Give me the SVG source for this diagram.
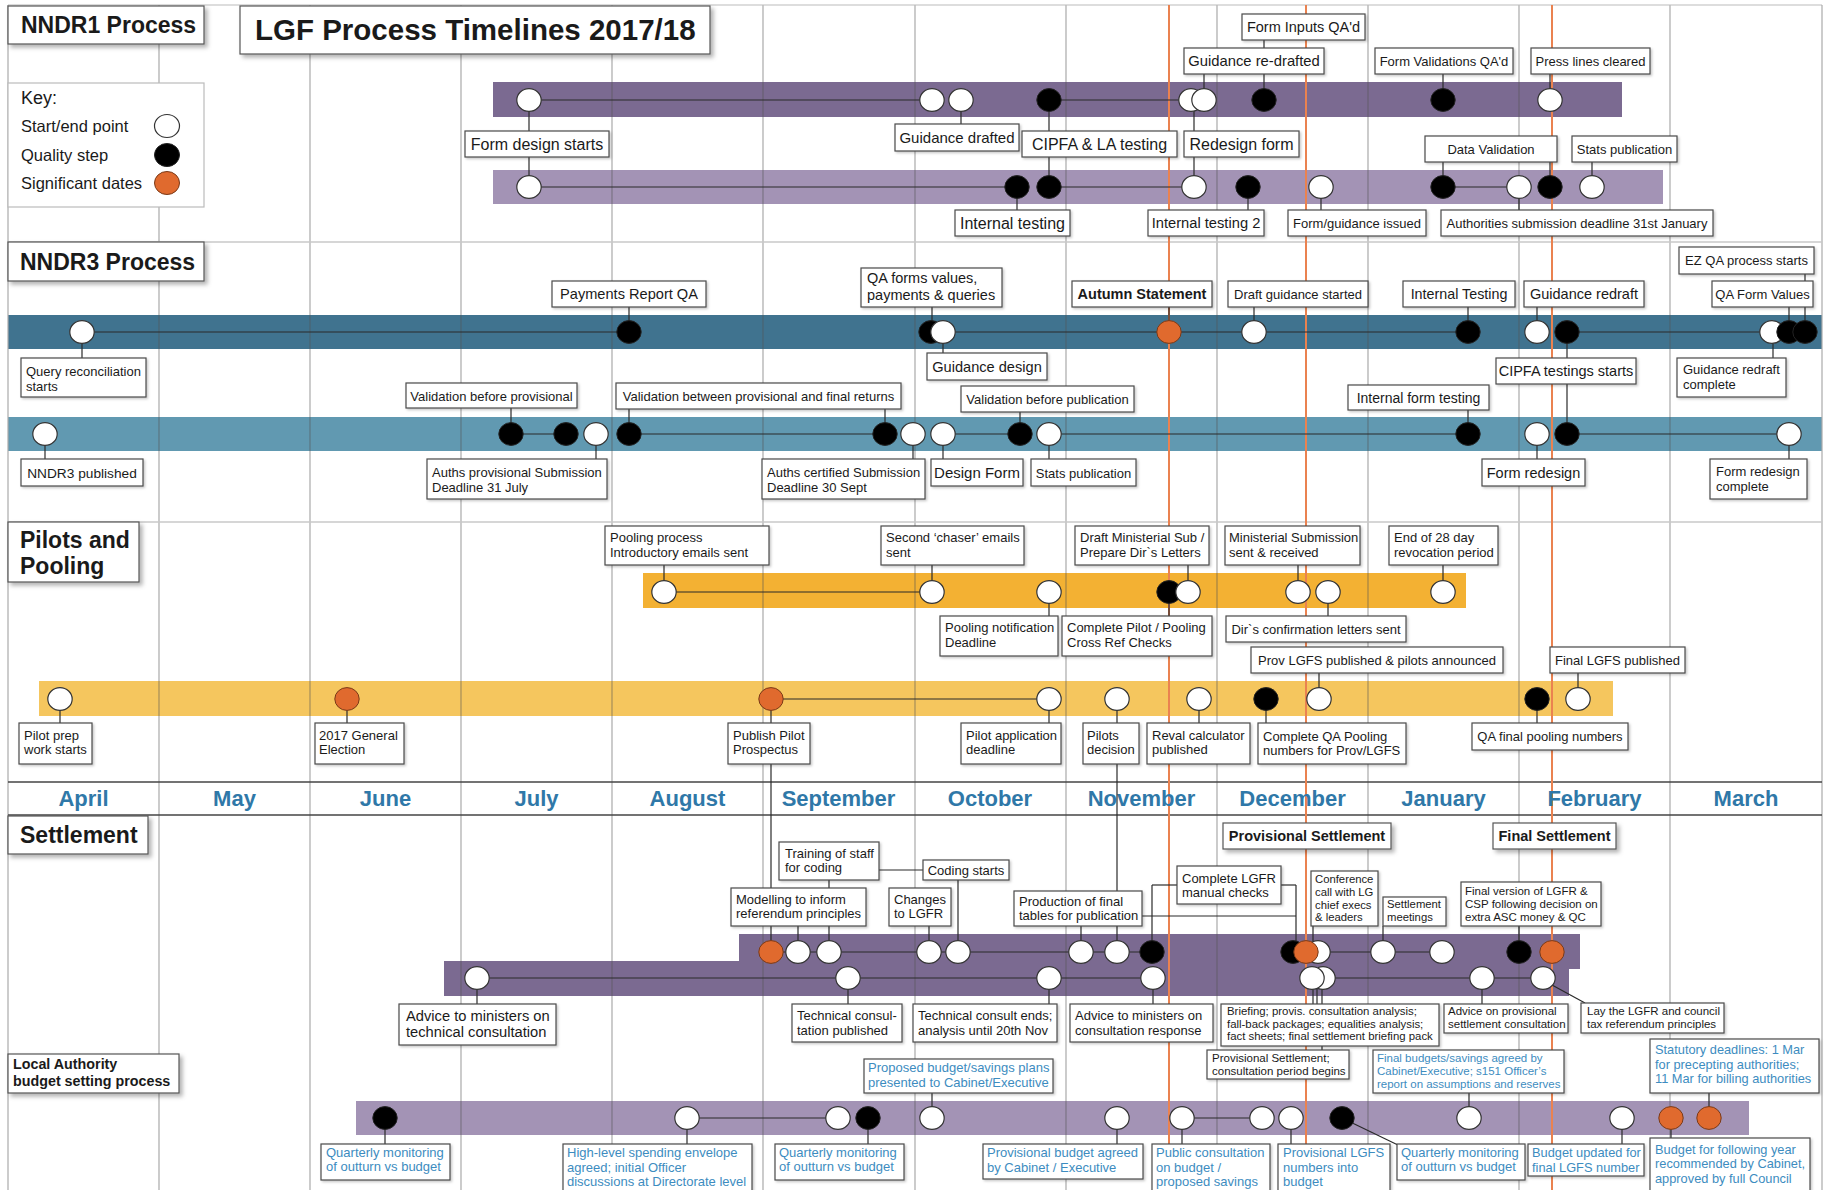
<svg xmlns="http://www.w3.org/2000/svg" width="1829" height="1190" viewBox="0 0 1829 1190">
<defs>
<filter id="sh" x="-5%" y="-10%" width="115%" height="140%"><feDropShadow dx="3" dy="3" stdDeviation="2" flood-color="#000" flood-opacity="0.3"/></filter>
<filter id="sh2" x="-5%" y="-10%" width="115%" height="140%"><feDropShadow dx="1.5" dy="1.5" stdDeviation="1" flood-color="#000" flood-opacity="0.22"/></filter>
<style>
.t{font-family:"Liberation Sans",Arial,Helvetica,sans-serif;fill:#1a1a1a}
.h{font-weight:bold}
.m{text-anchor:middle}
.bl{fill:#3d8cc0}
.mo{font-family:"Liberation Sans",Arial,sans-serif;font-weight:bold;font-size:22px;fill:#2f78a8;text-anchor:middle}
.bx{fill:#fff;stroke:#4a4a4a;stroke-width:1.2;filter:url(#sh2)}
.sx{fill:#fff;stroke:#555;stroke-width:1.2;filter:url(#sh)}
.cn line{stroke:#2a2a2a;stroke-width:1.2}
.cw{fill:#fff;stroke:#333;stroke-width:1.2}
.ck{fill:#000;stroke:#222;stroke-width:1}
.co{fill:#e06a2e;stroke:#7a3a18;stroke-width:1}
.gr line{stroke:#555;stroke-opacity:.5;stroke-width:1.2}
.or line{stroke:#ea8250;stroke-width:2}
</style>
</defs>
<rect width="1829" height="1190" fill="#fff"/>

<g id="bands">
<rect x="493" y="82" width="1129" height="35" fill="#7b6a91"/>
<rect x="493" y="170" width="1170" height="34" fill="#a393b5"/>
<rect x="8" y="315" width="1814" height="34" fill="#40738f"/>
<rect x="8" y="417" width="1814" height="34" fill="#6199b1"/>
<rect x="643" y="573" width="823" height="35" fill="#f3b133"/>
<rect x="39" y="681" width="1574" height="35" fill="#f5c65e"/>
<polygon points="739,934 1580,934 1580,969 1569,969 1569,996 444,996 444,961 739,961" fill="#7b6a91"/>
<rect x="356" y="1101" width="1393" height="34" fill="#a393b5"/>
</g>

<g id="grid" class="gr">
<line x1="159" y1="5" x2="159" y2="1190"/><line x1="310" y1="5" x2="310" y2="1190"/>
<line x1="461" y1="5" x2="461" y2="1190"/><line x1="612" y1="5" x2="612" y2="1190"/>
<line x1="763" y1="5" x2="763" y2="1190"/><line x1="915" y1="5" x2="915" y2="1190"/>
<line x1="1066" y1="5" x2="1066" y2="1190"/><line x1="1217" y1="5" x2="1217" y2="1190"/>
<line x1="1368" y1="5" x2="1368" y2="1190"/><line x1="1519" y1="5" x2="1519" y2="1190"/>
<line x1="1670" y1="5" x2="1670" y2="1190"/>
</g>
<g id="frame">
<line x1="8" y1="5" x2="1822" y2="5" stroke="#bbb" stroke-width="1.2"/>
<line x1="8" y1="5" x2="8" y2="1190" stroke="#aaa" stroke-width="1.2"/>
<line x1="1822" y1="5" x2="1822" y2="1190" stroke="#aaa" stroke-width="1.2"/>
<line x1="8" y1="242" x2="1822" y2="242" stroke="#c8c8c8" stroke-width="1.5"/>
<line x1="8" y1="522" x2="1822" y2="522" stroke="#c8c8c8" stroke-width="1.5"/>
<line x1="8" y1="782" x2="1822" y2="782" stroke="#444" stroke-width="1.5"/>
<line x1="8" y1="815" x2="1822" y2="815" stroke="#444" stroke-width="1.5"/>
</g>
<g id="significant-lines" class="or">
<line x1="1169" y1="5" x2="1169" y2="1190"/>
<line x1="1306" y1="5" x2="1306" y2="1190"/>
<line x1="1552" y1="5" x2="1552" y2="1190"/>
</g>

<g id="months">
<text class="mo" x="83.5" y="806">April</text>
<text class="mo" x="234.5" y="806">May</text>
<text class="mo" x="385.5" y="806">June</text>
<text class="mo" x="536.5" y="806">July</text>
<text class="mo" x="687.5" y="806">August</text>
<text class="mo" x="838.5" y="806">September</text>
<text class="mo" x="990" y="806">October</text>
<text class="mo" x="1141.5" y="806">November</text>
<text class="mo" x="1292.5" y="806">December</text>
<text class="mo" x="1443.5" y="806">January</text>
<text class="mo" x="1594.5" y="806">February</text>
<text class="mo" x="1746" y="806">March</text>
</g>

<g id="connectors" class="cn">
<line x1="529" y1="100" x2="932" y2="100"/><line x1="1049" y1="100" x2="1204" y2="100"/>
<line x1="529" y1="187" x2="1017" y2="187"/><line x1="1049" y1="187" x2="1194" y2="187"/><line x1="1443" y1="187" x2="1519" y2="187"/>
<line x1="529" y1="100" x2="529" y2="187"/><line x1="961" y1="100" x2="961" y2="124"/><line x1="1049" y1="100" x2="1049" y2="187"/>
<line x1="1194" y1="100" x2="1194" y2="187"/><line x1="1204" y1="74" x2="1204" y2="100"/><line x1="1264" y1="40" x2="1264" y2="100"/>
<line x1="1017" y1="187" x2="1017" y2="210"/><line x1="1248" y1="187" x2="1248" y2="210"/><line x1="1321" y1="187" x2="1321" y2="210"/>
<line x1="1443" y1="74" x2="1443" y2="100"/><line x1="1443" y1="162" x2="1443" y2="187"/>
<line x1="1550" y1="74" x2="1550" y2="100"/><line x1="1550" y1="162" x2="1550" y2="187"/>
<line x1="1519" y1="187" x2="1519" y2="210"/><line x1="1592" y1="162" x2="1592" y2="187"/>

<line x1="82" y1="332" x2="629" y2="332"/><line x1="943" y1="332" x2="1468" y2="332"/><line x1="1567" y1="332" x2="1805" y2="332"/>
<line x1="511" y1="434" x2="566" y2="434"/><line x1="629" y1="434" x2="885" y2="434"/><line x1="943" y1="434" x2="1020" y2="434"/>
<line x1="1049" y1="434" x2="1468" y2="434"/><line x1="1567" y1="434" x2="1789" y2="434"/>
<line x1="82" y1="332" x2="82" y2="358"/><line x1="629" y1="307" x2="629" y2="332"/><line x1="932" y1="307" x2="932" y2="332"/>
<line x1="943" y1="332" x2="943" y2="353"/><line x1="1169" y1="307" x2="1169" y2="332"/><line x1="1254" y1="307" x2="1254" y2="332"/>
<line x1="1468" y1="307" x2="1468" y2="332"/><line x1="1537" y1="307" x2="1537" y2="332"/><line x1="1567" y1="332" x2="1567" y2="434"/>
<line x1="1805" y1="274" x2="1805" y2="332"/><line x1="1789" y1="307" x2="1789" y2="332"/><line x1="1773" y1="332" x2="1773" y2="358"/>
<line x1="45" y1="434" x2="45" y2="459"/><line x1="511" y1="408" x2="511" y2="434"/><line x1="596" y1="434" x2="596" y2="459"/>
<line x1="629" y1="409" x2="629" y2="434"/><line x1="885" y1="409" x2="885" y2="434"/><line x1="913" y1="434" x2="913" y2="459"/>
<line x1="943" y1="434" x2="943" y2="459"/><line x1="1020" y1="412" x2="1020" y2="434"/><line x1="1049" y1="434" x2="1049" y2="459"/>
<line x1="1468" y1="410" x2="1468" y2="434"/><line x1="1537" y1="434" x2="1537" y2="459"/><line x1="1789" y1="434" x2="1789" y2="459"/>

<line x1="664" y1="592" x2="932" y2="592"/><line x1="771" y1="699" x2="1049" y2="699"/>
<line x1="664" y1="565" x2="664" y2="592"/><line x1="932" y1="565" x2="932" y2="592"/><line x1="1049" y1="592" x2="1049" y2="616"/>
<line x1="1188" y1="565" x2="1188" y2="592"/><line x1="1169" y1="592" x2="1169" y2="616"/><line x1="1298" y1="565" x2="1298" y2="592"/>
<line x1="1328" y1="592" x2="1328" y2="616"/><line x1="1443" y1="565" x2="1443" y2="592"/>
<line x1="60" y1="699" x2="60" y2="723"/><line x1="347" y1="699" x2="347" y2="723"/><line x1="771" y1="699" x2="771" y2="952"/>
<line x1="1049" y1="699" x2="1049" y2="723"/><line x1="1117" y1="699" x2="1117" y2="952"/><line x1="1199" y1="699" x2="1199" y2="723"/>
<line x1="1266" y1="699" x2="1266" y2="723"/><line x1="1319" y1="673" x2="1319" y2="699"/><line x1="1537" y1="699" x2="1537" y2="723"/>
<line x1="1578" y1="673" x2="1578" y2="699"/>

<line x1="771" y1="952" x2="1152" y2="952"/><line x1="1317" y1="952" x2="1442" y2="952"/>
<line x1="477" y1="978" x2="1153" y2="978"/><line x1="1323" y1="978" x2="1543" y2="978"/>
<line x1="879" y1="870" x2="923" y2="870"/><line x1="1142" y1="916" x2="1296" y2="916"/>
<line x1="1152" y1="885" x2="1177" y2="885"/><line x1="1281" y1="885" x2="1296" y2="885"/>
<line x1="798" y1="926" x2="798" y2="952"/><line x1="829" y1="880" x2="829" y2="952"/><line x1="929" y1="926" x2="929" y2="952"/>
<line x1="958" y1="880" x2="958" y2="952"/><line x1="1081" y1="926" x2="1081" y2="952"/><line x1="1152" y1="885" x2="1152" y2="952"/>
<line x1="1296" y1="885" x2="1296" y2="952"/><line x1="1313" y1="926" x2="1313" y2="952"/><line x1="1383" y1="926" x2="1383" y2="952"/>
<line x1="1519" y1="926" x2="1519" y2="952"/>
<line x1="477" y1="978" x2="477" y2="1004"/><line x1="848" y1="978" x2="848" y2="1004"/><line x1="1049" y1="978" x2="1049" y2="1004"/>
<line x1="1153" y1="978" x2="1153" y2="1004"/><line x1="1313" y1="978" x2="1313" y2="1004"/><line x1="1317" y1="978" x2="1317" y2="1004"/>
<line x1="1322" y1="978" x2="1322" y2="1004"/><line x1="1322" y1="1046" x2="1322" y2="1050"/><line x1="1482" y1="978" x2="1482" y2="1004"/>
<line x1="1552" y1="985" x2="1585" y2="1003"/>

<line x1="687" y1="1118" x2="838" y2="1118"/><line x1="1182" y1="1118" x2="1262" y2="1118"/>
<line x1="385" y1="1118" x2="385" y2="1144"/><line x1="687" y1="1118" x2="687" y2="1144"/><line x1="868" y1="1118" x2="868" y2="1144"/>
<line x1="932" y1="1093" x2="932" y2="1118"/><line x1="1117" y1="1118" x2="1117" y2="1144"/><line x1="1182" y1="1118" x2="1182" y2="1144"/>
<line x1="1291" y1="1118" x2="1291" y2="1144"/><line x1="1469" y1="1093" x2="1469" y2="1118"/><line x1="1622" y1="1118" x2="1622" y2="1144"/>
<line x1="1671" y1="1118" x2="1671" y2="1138"/><line x1="1709" y1="1093" x2="1709" y2="1118"/>
<line x1="1342" y1="1118" x2="1400" y2="1146"/>
</g>

<g id="points">
<g id="p-n1a-1"><ellipse class="cw" cx="529" cy="100" rx="12.2" ry="11.4"/></g>
<g id="p-n1a-2"><ellipse class="cw" cx="932" cy="100" rx="12.2" ry="11.4"/></g>
<g id="p-n1a-3"><ellipse class="cw" cx="961" cy="100" rx="12.2" ry="11.4"/></g>
<g id="p-n1a-4"><ellipse class="ck" cx="1049" cy="100" rx="12.2" ry="11.4"/></g>
<g id="p-n1a-5"><ellipse class="cw" cx="1191" cy="100" rx="12.2" ry="11.4"/></g>
<g id="p-n1a-6"><ellipse class="cw" cx="1204" cy="100" rx="12.2" ry="11.4"/></g>
<g id="p-n1a-7"><ellipse class="ck" cx="1264" cy="100" rx="12.2" ry="11.4"/></g>
<g id="p-n1a-8"><ellipse class="ck" cx="1443" cy="100" rx="12.2" ry="11.4"/></g>
<g id="p-n1a-9"><ellipse class="cw" cx="1550" cy="100" rx="12.2" ry="11.4"/></g>
<g id="p-n1b-1"><ellipse class="cw" cx="529" cy="187" rx="12.2" ry="11.4"/></g>
<g id="p-n1b-2"><ellipse class="ck" cx="1017" cy="187" rx="12.2" ry="11.4"/></g>
<g id="p-n1b-3"><ellipse class="ck" cx="1049" cy="187" rx="12.2" ry="11.4"/></g>
<g id="p-n1b-4"><ellipse class="cw" cx="1194" cy="187" rx="12.2" ry="11.4"/></g>
<g id="p-n1b-5"><ellipse class="ck" cx="1248" cy="187" rx="12.2" ry="11.4"/></g>
<g id="p-n1b-6"><ellipse class="cw" cx="1321" cy="187" rx="12.2" ry="11.4"/></g>
<g id="p-n1b-7"><ellipse class="ck" cx="1443" cy="187" rx="12.2" ry="11.4"/></g>
<g id="p-n1b-8"><ellipse class="cw" cx="1519" cy="187" rx="12.2" ry="11.4"/></g>
<g id="p-n1b-9"><ellipse class="ck" cx="1550" cy="187" rx="12.2" ry="11.4"/></g>
<g id="p-n1b-10"><ellipse class="cw" cx="1592" cy="187" rx="12.2" ry="11.4"/></g>

<g id="p-n3a-1"><ellipse class="cw" cx="82" cy="332" rx="12.2" ry="11.4"/></g>
<g id="p-n3a-2"><ellipse class="ck" cx="629" cy="332" rx="12.2" ry="11.4"/></g>
<g id="p-n3a-3"><ellipse class="ck" cx="931" cy="332" rx="12.2" ry="11.4"/></g>
<g id="p-n3a-4"><ellipse class="cw" cx="943" cy="332" rx="12.2" ry="11.4"/></g>
<g id="p-n3a-5"><ellipse class="co" cx="1169" cy="332" rx="12.2" ry="11.4"/></g>
<g id="p-n3a-6"><ellipse class="cw" cx="1254" cy="332" rx="12.2" ry="11.4"/></g>
<g id="p-n3a-7"><ellipse class="ck" cx="1468" cy="332" rx="12.2" ry="11.4"/></g>
<g id="p-n3a-8"><ellipse class="cw" cx="1537" cy="332" rx="12.2" ry="11.4"/></g>
<g id="p-n3a-9"><ellipse class="ck" cx="1567" cy="332" rx="12.2" ry="11.4"/></g>
<g id="p-n3a-10"><ellipse class="cw" cx="1772" cy="332" rx="12.2" ry="11.4"/></g>
<g id="p-n3a-11"><ellipse class="ck" cx="1789" cy="332" rx="12.2" ry="11.4"/></g>
<g id="p-n3a-12"><ellipse class="ck" cx="1805" cy="332" rx="12.2" ry="11.4"/></g>
<g id="p-n3b-1"><ellipse class="cw" cx="45" cy="434" rx="12.2" ry="11.4"/></g>
<g id="p-n3b-2"><ellipse class="ck" cx="511" cy="434" rx="12.2" ry="11.4"/></g>
<g id="p-n3b-3"><ellipse class="ck" cx="566" cy="434" rx="12.2" ry="11.4"/></g>
<g id="p-n3b-4"><ellipse class="cw" cx="596" cy="434" rx="12.2" ry="11.4"/></g>
<g id="p-n3b-5"><ellipse class="ck" cx="629" cy="434" rx="12.2" ry="11.4"/></g>
<g id="p-n3b-6"><ellipse class="ck" cx="885" cy="434" rx="12.2" ry="11.4"/></g>
<g id="p-n3b-7"><ellipse class="cw" cx="913" cy="434" rx="12.2" ry="11.4"/></g>
<g id="p-n3b-8"><ellipse class="cw" cx="943" cy="434" rx="12.2" ry="11.4"/></g>
<g id="p-n3b-9"><ellipse class="ck" cx="1020" cy="434" rx="12.2" ry="11.4"/></g>
<g id="p-n3b-10"><ellipse class="cw" cx="1049" cy="434" rx="12.2" ry="11.4"/></g>
<g id="p-n3b-11"><ellipse class="ck" cx="1468" cy="434" rx="12.2" ry="11.4"/></g>
<g id="p-n3b-12"><ellipse class="cw" cx="1537" cy="434" rx="12.2" ry="11.4"/></g>
<g id="p-n3b-13"><ellipse class="ck" cx="1567" cy="434" rx="12.2" ry="11.4"/></g>
<g id="p-n3b-14"><ellipse class="cw" cx="1789" cy="434" rx="12.2" ry="11.4"/></g>

<g id="p-pa-1"><ellipse class="cw" cx="664" cy="592" rx="12.2" ry="11.4"/></g>
<g id="p-pa-2"><ellipse class="cw" cx="932" cy="592" rx="12.2" ry="11.4"/></g>
<g id="p-pa-3"><ellipse class="cw" cx="1049" cy="592" rx="12.2" ry="11.4"/></g>
<g id="p-pa-4"><ellipse class="ck" cx="1169" cy="592" rx="12.2" ry="11.4"/></g>
<g id="p-pa-5"><ellipse class="cw" cx="1188" cy="592" rx="12.2" ry="11.4"/></g>
<g id="p-pa-6"><ellipse class="cw" cx="1298" cy="592" rx="12.2" ry="11.4"/></g>
<g id="p-pa-7"><ellipse class="cw" cx="1328" cy="592" rx="12.2" ry="11.4"/></g>
<g id="p-pa-8"><ellipse class="cw" cx="1443" cy="592" rx="12.2" ry="11.4"/></g>
<g id="p-pb-1"><ellipse class="cw" cx="60" cy="699" rx="12.2" ry="11.4"/></g>
<g id="p-pb-2"><ellipse class="co" cx="347" cy="699" rx="12.2" ry="11.4"/></g>
<g id="p-pb-3"><ellipse class="co" cx="771" cy="699" rx="12.2" ry="11.4"/></g>
<g id="p-pb-4"><ellipse class="cw" cx="1049" cy="699" rx="12.2" ry="11.4"/></g>
<g id="p-pb-5"><ellipse class="cw" cx="1117" cy="699" rx="12.2" ry="11.4"/></g>
<g id="p-pb-6"><ellipse class="cw" cx="1199" cy="699" rx="12.2" ry="11.4"/></g>
<g id="p-pb-7"><ellipse class="ck" cx="1266" cy="699" rx="12.2" ry="11.4"/></g>
<g id="p-pb-8"><ellipse class="cw" cx="1319" cy="699" rx="12.2" ry="11.4"/></g>
<g id="p-pb-9"><ellipse class="ck" cx="1537" cy="699" rx="12.2" ry="11.4"/></g>
<g id="p-pb-10"><ellipse class="cw" cx="1578" cy="699" rx="12.2" ry="11.4"/></g>

<g id="p-sa-1"><ellipse class="co" cx="771" cy="952" rx="12.2" ry="11.4"/></g>
<g id="p-sa-2"><ellipse class="cw" cx="798" cy="952" rx="12.2" ry="11.4"/></g>
<g id="p-sa-3"><ellipse class="cw" cx="829" cy="952" rx="12.2" ry="11.4"/></g>
<g id="p-sa-4"><ellipse class="cw" cx="929" cy="952" rx="12.2" ry="11.4"/></g>
<g id="p-sa-5"><ellipse class="cw" cx="958" cy="952" rx="12.2" ry="11.4"/></g>
<g id="p-sa-6"><ellipse class="cw" cx="1081" cy="952" rx="12.2" ry="11.4"/></g>
<g id="p-sa-7"><ellipse class="cw" cx="1117" cy="952" rx="12.2" ry="11.4"/></g>
<g id="p-sa-8"><ellipse class="ck" cx="1152" cy="952" rx="12.2" ry="11.4"/></g>
<g id="p-sa-9"><ellipse class="ck" cx="1293" cy="952" rx="12.2" ry="11.4"/></g>
<g id="p-sa-10"><ellipse class="cw" cx="1318" cy="952" rx="12.2" ry="11.4"/></g>
<g id="p-sa-11"><ellipse class="co" cx="1306" cy="952" rx="12.2" ry="11.4"/></g>
<g id="p-sa-12"><ellipse class="cw" cx="1383" cy="952" rx="12.2" ry="11.4"/></g>
<g id="p-sa-13"><ellipse class="cw" cx="1442" cy="952" rx="12.2" ry="11.4"/></g>
<g id="p-sa-14"><ellipse class="ck" cx="1519" cy="952" rx="12.2" ry="11.4"/></g>
<g id="p-sa-15"><ellipse class="co" cx="1552" cy="952" rx="12.2" ry="11.4"/></g>
<g id="p-sb-1"><ellipse class="cw" cx="477" cy="978" rx="12.2" ry="11.4"/></g>
<g id="p-sb-2"><ellipse class="cw" cx="848" cy="978" rx="12.2" ry="11.4"/></g>
<g id="p-sb-3"><ellipse class="cw" cx="1049" cy="978" rx="12.2" ry="11.4"/></g>
<g id="p-sb-4"><ellipse class="cw" cx="1153" cy="978" rx="12.2" ry="11.4"/></g>
<g id="p-sb-5"><ellipse class="cw" cx="1323" cy="978" rx="12.2" ry="11.4"/></g>
<g id="p-sb-6"><ellipse class="cw" cx="1312" cy="978" rx="12.2" ry="11.4"/></g>
<g id="p-sb-7"><ellipse class="cw" cx="1482" cy="978" rx="12.2" ry="11.4"/></g>
<g id="p-sb-8"><ellipse class="cw" cx="1543" cy="978" rx="12.2" ry="11.4"/></g>

<g id="p-la-1"><ellipse class="ck" cx="385" cy="1118" rx="12.2" ry="11.4"/></g>
<g id="p-la-2"><ellipse class="cw" cx="687" cy="1118" rx="12.2" ry="11.4"/></g>
<g id="p-la-3"><ellipse class="cw" cx="838" cy="1118" rx="12.2" ry="11.4"/></g>
<g id="p-la-4"><ellipse class="ck" cx="868" cy="1118" rx="12.2" ry="11.4"/></g>
<g id="p-la-5"><ellipse class="cw" cx="932" cy="1118" rx="12.2" ry="11.4"/></g>
<g id="p-la-6"><ellipse class="cw" cx="1117" cy="1118" rx="12.2" ry="11.4"/></g>
<g id="p-la-7"><ellipse class="cw" cx="1182" cy="1118" rx="12.2" ry="11.4"/></g>
<g id="p-la-8"><ellipse class="cw" cx="1262" cy="1118" rx="12.2" ry="11.4"/></g>
<g id="p-la-9"><ellipse class="cw" cx="1291" cy="1118" rx="12.2" ry="11.4"/></g>
<g id="p-la-10"><ellipse class="ck" cx="1342" cy="1118" rx="12.2" ry="11.4"/></g>
<g id="p-la-11"><ellipse class="cw" cx="1469" cy="1118" rx="12.2" ry="11.4"/></g>
<g id="p-la-12"><ellipse class="cw" cx="1622" cy="1118" rx="12.2" ry="11.4"/></g>
<g id="p-la-13"><ellipse class="co" cx="1671" cy="1118" rx="12.2" ry="11.4"/></g>
<g id="p-la-14"><ellipse class="co" cx="1709" cy="1118" rx="12.2" ry="11.4"/></g>
</g>

<g id="headings">
<g id="h-nndr1"><rect class="sx" x="8" y="6" width="196" height="38"/><text class="t h" x="21" y="33" font-size="23">NNDR1 Process</text></g>
<g id="h-title"><rect class="sx" x="240" y="6" width="470" height="48"/><text class="t h" x="255" y="40" font-size="29.5">LGF Process Timelines 2017/18</text></g>
<g id="key"><rect x="8" y="83" width="196" height="124" fill="#fff" stroke="#bbb" stroke-width="1.2"/>
<text class="t" x="21" y="104" font-size="18">Key:</text>
<text class="t" x="21" y="132" font-size="16.5">Start/end point</text>
<text class="t" x="21" y="161" font-size="16.5">Quality step</text>
<text class="t" x="21" y="189" font-size="16.5">Significant dates</text>
<ellipse class="cw" cx="167" cy="126" rx="12.5" ry="11.5"/>
<ellipse class="ck" cx="167" cy="155" rx="12.5" ry="11.5"/>
<ellipse class="co" cx="167" cy="183" rx="12.5" ry="11.5"/></g>
<g id="h-nndr3"><rect class="sx" x="8" y="242" width="196" height="39"/><text class="t h" x="20" y="270" font-size="23">NNDR3 Process</text></g>
<g id="h-pilots"><rect class="sx" x="8" y="522" width="131" height="60"/><text class="t h" x="20" y="548" font-size="23">Pilots and</text><text class="t h" x="20" y="574" font-size="23">Pooling</text></g>
<g id="h-settlement"><rect class="sx" x="8" y="816" width="140" height="38"/><text class="t h" x="20" y="843" font-size="23">Settlement</text></g>
<g id="h-la"><rect class="sx" x="8" y="1054" width="171" height="39"/><text class="t h" x="13" y="1069" font-size="14.3">Local Authority</text><text class="t h" x="13" y="1086" font-size="14.3">budget setting process</text></g>
</g>

<g id="labels">
<g id="l-form-design"><rect class="bx" x="465" y="131" width="144" height="26"/><text class="t m" x="537" y="149.5" font-size="16">Form design starts</text></g>
<g id="l-guidance-drafted"><rect class="bx" x="895" y="124" width="124" height="27"/><text class="t m" x="957" y="143" font-size="15">Guidance drafted</text></g>
<g id="l-cipfa-la"><rect class="bx" x="1022" y="131" width="155" height="26"/><text class="t m" x="1099.5" y="149.5" font-size="16">CIPFA &amp; LA testing</text></g>
<g id="l-redesign-form"><rect class="bx" x="1184" y="131" width="115" height="26"/><text class="t m" x="1241.5" y="149.5" font-size="16">Redesign form</text></g>
<g id="l-internal-testing"><rect class="bx" x="955" y="210" width="115" height="26"/><text class="t m" x="1012.5" y="228.5" font-size="16">Internal testing</text></g>
<g id="l-internal-testing-2"><rect class="bx" x="1148" y="210" width="116" height="26"/><text class="t m" x="1206" y="228" font-size="14.7">Internal testing 2</text></g>
<g id="l-form-guidance-issued"><rect class="bx" x="1288" y="210" width="138" height="26"/><text class="t m" x="1357" y="227.5" font-size="13">Form/guidance issued</text></g>
<g id="l-form-inputs"><rect class="bx" x="1242" y="14" width="123" height="26"/><text class="t m" x="1303.5" y="32" font-size="14.5">Form Inputs QA'd</text></g>
<g id="l-guidance-redrafted"><rect class="bx" x="1184" y="48" width="140" height="26"/><text class="t m" x="1254" y="66" font-size="14.8">Guidance re-drafted</text></g>
<g id="l-form-validations"><rect class="bx" x="1375" y="48" width="138" height="26"/><text class="t m" x="1444" y="65.5" font-size="13">Form Validations QA'd</text></g>
<g id="l-press-lines"><rect class="bx" x="1531" y="48" width="119" height="26"/><text class="t m" x="1590.5" y="65.5" font-size="13">Press lines cleared</text></g>
<g id="l-data-validation"><rect class="bx" x="1425" y="136" width="132" height="26"/><text class="t m" x="1491" y="153.5" font-size="13">Data Validation</text></g>
<g id="l-stats-pub-1"><rect class="bx" x="1572" y="136" width="105" height="26"/><text class="t m" x="1624.5" y="153.5" font-size="13">Stats publication</text></g>
<g id="l-auth-deadline"><rect class="bx" x="1441" y="210" width="272" height="26"/><text class="t m" x="1577" y="227.5" font-size="13">Authorities submission deadline 31st January</text></g>

<g id="l-query-recon"><rect class="bx" x="21" y="358" width="125" height="39"/><text class="t" x="26" y="376" font-size="13">Query reconciliation</text><text class="t" x="26" y="391" font-size="13">starts</text></g>
<g id="l-payments-qa"><rect class="bx" x="552" y="281" width="154" height="26"/><text class="t m" x="629" y="299" font-size="14.6">Payments Report QA</text></g>
<g id="l-qa-forms"><rect class="bx" x="861" y="268" width="141" height="39"/><text class="t" x="867" y="283" font-size="14.5">QA forms values,</text><text class="t" x="867" y="300" font-size="14.5">payments &amp; queries</text></g>
<g id="l-autumn"><rect class="bx" x="1072" y="281" width="140" height="26"/><text class="t h m" x="1142" y="299" font-size="14.5">Autumn Statement</text></g>
<g id="l-draft-guidance"><rect class="bx" x="1228" y="281" width="140" height="26"/><text class="t m" x="1298" y="298.5" font-size="13">Draft guidance started</text></g>
<g id="l-guidance-design"><rect class="bx" x="927" y="353" width="120" height="27"/><text class="t m" x="987" y="371.5" font-size="14.6">Guidance design</text></g>
<g id="l-internal-testing-3"><rect class="bx" x="1403" y="281" width="112" height="26"/><text class="t m" x="1459" y="299" font-size="14.3">Internal Testing</text></g>
<g id="l-guidance-redraft"><rect class="bx" x="1524" y="281" width="120" height="26"/><text class="t m" x="1584" y="299" font-size="14.5">Guidance redraft</text></g>
<g id="l-cipfa-testings"><rect class="bx" x="1496" y="358" width="140" height="26"/><text class="t m" x="1566" y="376" font-size="14.5">CIPFA testings starts</text></g>
<g id="l-ez-qa"><rect class="bx" x="1679" y="247" width="135" height="27"/><text class="t m" x="1746.5" y="265" font-size="13">EZ QA process starts</text></g>
<g id="l-qa-form-values"><rect class="bx" x="1712" y="281" width="101" height="26"/><text class="t m" x="1762.5" y="298.5" font-size="13">QA Form Values</text></g>
<g id="l-guidance-redraft-complete"><rect class="bx" x="1677" y="358" width="109" height="39"/><text class="t" x="1683" y="374" font-size="13">Guidance redraft</text><text class="t" x="1683" y="389" font-size="13">complete</text></g>
<g id="l-nndr3-published"><rect class="bx" x="21" y="459" width="122" height="27"/><text class="t m" x="82" y="477.5" font-size="13.7">NNDR3 published</text></g>
<g id="l-val-before-prov"><rect class="bx" x="406" y="383" width="171" height="25"/><text class="t m" x="491.5" y="400.5" font-size="13">Validation before provisional</text></g>
<g id="l-auths-prov"><rect class="bx" x="427" y="459" width="180" height="40"/><text class="t" x="432" y="477" font-size="13">Auths provisional Submission</text><text class="t" x="432" y="492" font-size="13">Deadline 31 July</text></g>
<g id="l-val-between"><rect class="bx" x="616" y="383" width="285" height="26"/><text class="t m" x="758.5" y="400.5" font-size="13">Validation between provisional and final returns</text></g>
<g id="l-auths-cert"><rect class="bx" x="762" y="459" width="163" height="40"/><text class="t" x="767" y="477" font-size="13">Auths certified Submission</text><text class="t" x="767" y="492" font-size="13">Deadline 30 Sept</text></g>
<g id="l-design-form"><rect class="bx" x="931" y="459" width="92" height="27"/><text class="t m" x="977" y="478" font-size="15">Design Form</text></g>
<g id="l-val-before-pub"><rect class="bx" x="961" y="386" width="173" height="26"/><text class="t m" x="1047.5" y="403.5" font-size="13">Validation before publication</text></g>
<g id="l-stats-pub-2"><rect class="bx" x="1031" y="459" width="105" height="27"/><text class="t m" x="1083.5" y="477.5" font-size="13">Stats publication</text></g>
<g id="l-internal-form-testing"><rect class="bx" x="1348" y="385" width="141" height="25"/><text class="t m" x="1418.5" y="402.5" font-size="14">Internal form testing</text></g>
<g id="l-form-redesign"><rect class="bx" x="1482" y="459" width="103" height="27"/><text class="t m" x="1533.5" y="478" font-size="14.5">Form redesign</text></g>
<g id="l-form-redesign-complete"><rect class="bx" x="1710" y="459" width="97" height="40"/><text class="t" x="1716" y="476" font-size="13">Form redesign</text><text class="t" x="1716" y="491" font-size="13">complete</text></g>

<g id="l-pooling-process"><rect class="bx" x="605" y="526" width="164" height="39"/><text class="t" x="610" y="542" font-size="13">Pooling process</text><text class="t" x="610" y="556.5" font-size="13">Introductory emails sent</text></g>
<g id="l-chaser"><rect class="bx" x="881" y="526" width="143" height="39"/><text class="t" x="886" y="542" font-size="13">Second ‘chaser’ emails</text><text class="t" x="886" y="556.5" font-size="13">sent</text></g>
<g id="l-pooling-notif"><rect class="bx" x="940" y="616" width="118" height="40"/><text class="t" x="945" y="632" font-size="13">Pooling notification</text><text class="t" x="945" y="647" font-size="13">Deadline</text></g>
<g id="l-draft-min"><rect class="bx" x="1075" y="526" width="134" height="39"/><text class="t" x="1080" y="542" font-size="13">Draft Ministerial Sub /</text><text class="t" x="1080" y="556.5" font-size="13">Prepare Dir`s Letters</text></g>
<g id="l-complete-pilot"><rect class="bx" x="1062" y="616" width="150" height="40"/><text class="t" x="1067" y="632" font-size="13">Complete Pilot / Pooling</text><text class="t" x="1067" y="647" font-size="13">Cross Ref Checks</text></g>
<g id="l-min-sub"><rect class="bx" x="1225" y="526" width="135" height="39"/><text class="t" x="1229" y="542" font-size="13">Ministerial Submission</text><text class="t" x="1229" y="556.5" font-size="13">sent &amp; received</text></g>
<g id="l-dirs-conf"><rect class="bx" x="1226" y="616" width="180" height="26"/><text class="t m" x="1316" y="633.5" font-size="13">Dir`s confirmation letters sent</text></g>
<g id="l-end-28"><rect class="bx" x="1389" y="526" width="109" height="39"/><text class="t" x="1394" y="542" font-size="13">End of 28 day</text><text class="t" x="1394" y="556.5" font-size="13">revocation period</text></g>
<g id="l-pilot-prep"><rect class="bx" x="19" y="723" width="73" height="41"/><text class="t" x="24" y="740" font-size="13">Pilot prep</text><text class="t" x="24" y="754" font-size="13">work starts</text></g>
<g id="l-election"><rect class="bx" x="315" y="723" width="89" height="41"/><text class="t" x="319" y="740" font-size="13">2017 General</text><text class="t" x="319" y="754" font-size="13">Election</text></g>
<g id="l-prospectus"><rect class="bx" x="728" y="723" width="82" height="41"/><text class="t" x="733" y="740" font-size="13">Publish Pilot</text><text class="t" x="733" y="754" font-size="13">Prospectus</text></g>
<g id="l-pilot-app"><rect class="bx" x="961" y="723" width="100" height="41"/><text class="t" x="966" y="740" font-size="13">Pilot application</text><text class="t" x="966" y="754" font-size="13">deadline</text></g>
<g id="l-pilots-decision"><rect class="bx" x="1083" y="723" width="56" height="41"/><text class="t" x="1087" y="740" font-size="13">Pilots</text><text class="t" x="1087" y="754" font-size="13">decision</text></g>
<g id="l-reval"><rect class="bx" x="1147" y="723" width="103" height="41"/><text class="t" x="1152" y="740" font-size="13">Reval calculator</text><text class="t" x="1152" y="754" font-size="13">published</text></g>
<g id="l-complete-qa-pooling"><rect class="bx" x="1258" y="723" width="148" height="41"/><text class="t" x="1263" y="741" font-size="13">Complete QA Pooling</text><text class="t" x="1263" y="755" font-size="13">numbers for Prov/LGFS</text></g>
<g id="l-prov-lgfs-pub"><rect class="bx" x="1251" y="647" width="252" height="26"/><text class="t m" x="1377" y="664.5" font-size="13">Prov LGFS published &amp; pilots announced</text></g>
<g id="l-qa-final-pooling"><rect class="bx" x="1472" y="723" width="156" height="27"/><text class="t m" x="1550" y="741" font-size="13">QA final pooling numbers</text></g>
<g id="l-final-lgfs-pub"><rect class="bx" x="1550" y="647" width="135" height="26"/><text class="t m" x="1617.5" y="664.5" font-size="13">Final LGFS published</text></g>

<g id="l-training"><rect class="bx" x="779" y="842" width="100" height="38"/><text class="t" x="785" y="858" font-size="13">Training of staff</text><text class="t" x="785" y="872" font-size="13">for coding</text></g>
<g id="l-coding"><rect class="bx" x="923" y="860" width="86" height="20"/><text class="t m" x="966" y="875" font-size="13">Coding starts</text></g>
<g id="l-modelling"><rect class="bx" x="731" y="888" width="135" height="38"/><text class="t" x="736" y="904" font-size="13">Modelling to inform</text><text class="t" x="736" y="918" font-size="13">referendum principles</text></g>
<g id="l-changes"><rect class="bx" x="889" y="888" width="62" height="38"/><text class="t" x="894" y="904" font-size="13">Changes</text><text class="t" x="894" y="918" font-size="13">to LGFR</text></g>
<g id="l-production"><rect class="bx" x="1014" y="891" width="128" height="35"/><text class="t" x="1019" y="906" font-size="13">Production of final</text><text class="t" x="1019" y="920" font-size="13">tables for publication</text></g>
<g id="l-complete-lgfr"><rect class="bx" x="1177" y="866" width="104" height="38"/><text class="t" x="1182" y="883" font-size="13">Complete LGFR</text><text class="t" x="1182" y="897" font-size="13">manual checks</text></g>
<g id="l-prov-settlement"><rect class="sx" x="1223" y="823" width="168" height="26"/><text class="t h m" x="1307" y="841" font-size="14.5">Provisional Settlement</text></g>
<g id="l-final-settlement"><rect class="sx" x="1493" y="823" width="123" height="26"/><text class="t h m" x="1554.5" y="841" font-size="14.5">Final Settlement</text></g>
<g id="l-conference"><rect class="bx" x="1311" y="871" width="67" height="55"/><text class="t" x="1315" y="883" font-size="11.3">Conference</text><text class="t" x="1315" y="896" font-size="11.3">call with LG</text><text class="t" x="1315" y="909" font-size="11.3">chief execs</text><text class="t" x="1315" y="921" font-size="11.3">&amp; leaders</text></g>
<g id="l-settlement-meetings"><rect class="bx" x="1383" y="897" width="63" height="29"/><text class="t" x="1387" y="908" font-size="11.3">Settlement</text><text class="t" x="1387" y="921" font-size="11.3">meetings</text></g>
<g id="l-final-version"><rect class="bx" x="1461" y="882" width="140" height="44"/><text class="t" x="1465" y="895" font-size="11.5">Final version of LGFR &amp;</text><text class="t" x="1465" y="908" font-size="11.5">CSP following decision on</text><text class="t" x="1465" y="920.5" font-size="11.5">extra ASC money &amp; QC</text></g>
<g id="l-advice-tech"><rect class="bx" x="399" y="1004" width="157" height="41"/><text class="t" x="406" y="1021" font-size="14.7">Advice to ministers on</text><text class="t" x="406" y="1037" font-size="14.7">technical consultation</text></g>
<g id="l-tech-consul"><rect class="bx" x="792" y="1004" width="110" height="38"/><text class="t" x="797" y="1020" font-size="13">Technical consul-</text><text class="t" x="797" y="1035" font-size="13">tation published</text></g>
<g id="l-tech-ends"><rect class="bx" x="913" y="1004" width="144" height="38"/><text class="t" x="918" y="1020" font-size="13">Technical consult ends;</text><text class="t" x="918" y="1035" font-size="13">analysis until 20th Nov</text></g>
<g id="l-advice-consult"><rect class="bx" x="1070" y="1004" width="143" height="38"/><text class="t" x="1075" y="1020" font-size="13">Advice to ministers on</text><text class="t" x="1075" y="1035" font-size="13">consultation response</text></g>
<g id="l-briefing"><rect class="bx" x="1221" y="1004" width="218" height="42"/><text class="t" x="1227" y="1015" font-size="11.4">Briefing; provis. consultation analysis;</text><text class="t" x="1227" y="1027.5" font-size="11.4">fall-back packages; equalities analysis;</text><text class="t" x="1227" y="1040" font-size="11.4">fact sheets; final settlement briefing pack</text></g>
<g id="l-prov-consult"><rect class="bx" x="1207" y="1050" width="142" height="29"/><text class="t" x="1212" y="1062" font-size="11.5">Provisional Settlement;</text><text class="t" x="1212" y="1075" font-size="11.5">consultation period begins</text></g>
<g id="l-advice-prov"><rect class="bx" x="1444" y="1004" width="124" height="29"/><text class="t" x="1448" y="1015" font-size="11.5">Advice on provisional</text><text class="t" x="1448" y="1027.5" font-size="11.5">settlement consultation</text></g>
<g id="l-lay-lgfr"><rect class="bx" x="1581" y="1003" width="143" height="30"/><text class="t" x="1587" y="1015" font-size="11.5">Lay the LGFR and council</text><text class="t" x="1587" y="1027.5" font-size="11.5">tax referendum principles</text></g>

<g id="l-qm1"><rect class="bx" x="321" y="1144" width="129" height="36"/><text class="t bl" x="326" y="1157" font-size="13">Quarterly monitoring</text><text class="t bl" x="326" y="1171" font-size="13">of outturn vs budget</text></g>
<g id="l-high-level"><rect class="bx" x="563" y="1144" width="189" height="52"/><text class="t bl" x="567" y="1157" font-size="13">High-level spending envelope</text><text class="t bl" x="567" y="1171.5" font-size="13">agreed; initial Officer</text><text class="t bl" x="567" y="1186" font-size="13">discussions at Directorate level</text></g>
<g id="l-qm2"><rect class="bx" x="775" y="1144" width="129" height="36"/><text class="t bl" x="779" y="1157" font-size="13">Quarterly monitoring</text><text class="t bl" x="779" y="1171" font-size="13">of outturn vs budget</text></g>
<g id="l-proposed"><rect class="bx" x="864" y="1059" width="189" height="34"/><text class="t bl" x="868" y="1072" font-size="13">Proposed budget/savings plans</text><text class="t bl" x="868" y="1087" font-size="13">presented to Cabinet/Executive</text></g>
<g id="l-prov-budget"><rect class="bx" x="983" y="1144" width="160" height="35"/><text class="t bl" x="987" y="1157" font-size="13">Provisional budget agreed</text><text class="t bl" x="987" y="1172" font-size="13">by Cabinet / Executive</text></g>
<g id="l-public-consult"><rect class="bx" x="1152" y="1144" width="118" height="52"/><text class="t bl" x="1156" y="1157" font-size="13">Public consultation</text><text class="t bl" x="1156" y="1172" font-size="13">on budget /</text><text class="t bl" x="1156" y="1186" font-size="13">proposed savings</text></g>
<g id="l-prov-lgfs-budget"><rect class="bx" x="1278" y="1144" width="112" height="52"/><text class="t bl" x="1283" y="1157" font-size="13">Provisional LGFS</text><text class="t bl" x="1283" y="1172" font-size="13">numbers into</text><text class="t bl" x="1283" y="1186" font-size="13">budget</text></g>
<g id="l-qm3"><rect class="bx" x="1397" y="1144" width="128" height="36"/><text class="t bl" x="1401" y="1157" font-size="13">Quarterly monitoring</text><text class="t bl" x="1401" y="1171" font-size="13">of outturn vs budget</text></g>
<g id="l-final-budgets"><rect class="bx" x="1373" y="1050" width="191" height="43"/><text class="t bl" x="1377" y="1062" font-size="11.5">Final budgets/savings agreed by</text><text class="t bl" x="1377" y="1075" font-size="11.5">Cabinet/Executive; s151 Officer’s</text><text class="t bl" x="1377" y="1087.5" font-size="11.5">report on assumptions and reserves</text></g>
<g id="l-budget-updated"><rect class="bx" x="1528" y="1144" width="116" height="32"/><text class="t bl" x="1532" y="1157" font-size="12.8">Budget updated for</text><text class="t bl" x="1532" y="1172" font-size="12.8">final LGFS number</text></g>
<g id="l-statutory"><rect class="bx" x="1650" y="1039" width="169" height="54"/><text class="t bl" x="1655" y="1054" font-size="12.8">Statutory deadlines: 1 Mar</text><text class="t bl" x="1655" y="1069" font-size="12.8">for precepting authorities;</text><text class="t bl" x="1655" y="1083" font-size="12.8">11 Mar for billing authorities</text></g>
<g id="l-budget-following"><rect class="bx" x="1650" y="1138" width="160" height="58"/><text class="t bl" x="1655" y="1154" font-size="12.8">Budget for following year</text><text class="t bl" x="1655" y="1168" font-size="12.8">recommended by Cabinet,</text><text class="t bl" x="1655" y="1183" font-size="12.8">approved by full Council</text></g>
</g>
</svg>
